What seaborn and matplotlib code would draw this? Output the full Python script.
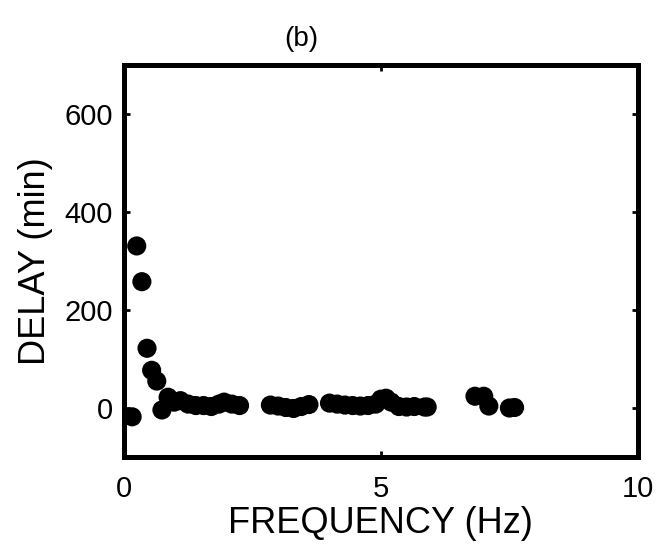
import matplotlib
matplotlib.use("Agg")
import matplotlib.pyplot as plt
import seaborn as sns
import pandas as pd

# Measured delay versus stimulation frequency
frequency_hz = [0.16, 0.25, 0.35, 0.45, 0.54, 0.64, 0.74, 0.86,
                0.98, 1.1, 1.25, 1.4, 1.55, 1.7, 1.85, 1.95, 2.1, 2.25,
                2.85, 3.0, 3.15, 3.3, 3.45, 3.6,
                4.0, 4.15, 4.3, 4.45, 4.6, 4.75, 4.9, 5.0, 5.1, 5.2,
                5.35, 5.5, 5.65, 5.85, 5.9,
                6.83, 7.0, 7.1, 7.5, 7.6]
delay_min = [-18, 331, 258, 122, 77, 55, -4, 22,
             12, 15, 8, 5, 5, 3, 8, 12, 8, 5,
             6, 4, 1, -1, 3, 7,
             10, 8, 6, 5, 4, 5, 8, 18, 20, 12,
             3, 2, 3, 2, 2,
             24, 24, 4, 0, 1]

xticks = [0, 5, 10]
yticks = [0, 200, 400, 600]

df = pd.DataFrame({"FREQUENCY (Hz)": frequency_hz, "DELAY (min)": delay_min})

sns.set_style("ticks")
plt.rcParams["font.family"] = ["Liberation Sans", "DejaVu Sans"]
plt.rcParams["text.color"] = "black"
plt.rcParams["axes.labelcolor"] = "black"
plt.rcParams["xtick.color"] = "black"
plt.rcParams["ytick.color"] = "black"

fig = plt.figure(figsize=(6.59, 5.44), dpi=100)
ax = fig.add_axes([0.188, 0.160, 0.780, 0.720])

sns.scatterplot(data=df, x="FREQUENCY (Hz)", y="DELAY (min)", ax=ax,
                color="black", edgecolor="none", s=190, linewidth=0)

ax.set_xlim(0, 10)
ax.set_ylim(-100, 700)
ax.set_xticks(xticks)
ax.set_yticks(yticks)
ax.set_xticklabels([str(t) for t in xticks])
ax.set_yticklabels([str(t) for t in yticks])

for side in ["left", "right", "top", "bottom"]:
    ax.spines[side].set_visible(True)
    ax.spines[side].set_linewidth(3.6)
    ax.spines[side].set_color("black")

ax.tick_params(axis="both", which="both", direction="in", length=4, width=2,
               top=True, right=True, labelsize=21, colors="black")
ax.tick_params(axis="x", pad=13)
ax.tick_params(axis="y", pad=8)

ax.set_xlabel("FREQUENCY (Hz)", fontsize=26, labelpad=2)
ax.set_ylabel("DELAY (min)", fontsize=26, labelpad=8)
ax.set_title("(b)", fontsize=20, pad=14, x=0.346, color="black")

fig.savefig("out.png", dpi=100)
